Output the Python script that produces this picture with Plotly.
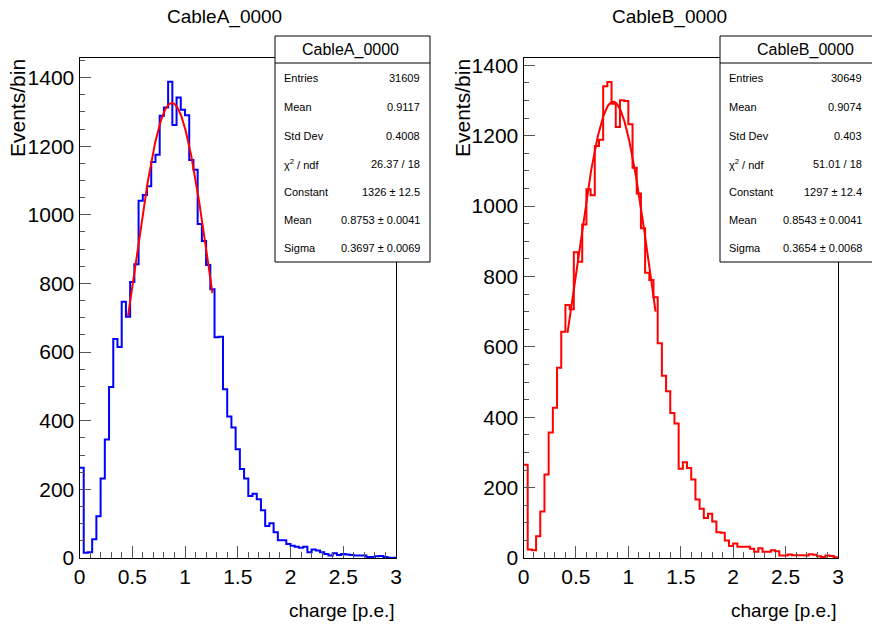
import numpy as np
import plotly.graph_objects as go

# ---------------- data ----------------
bin_lo = 0.0
bin_width = 0.04
n_bins = 75

cable_a_counts = [263, 15, 17, 55, 122, 232, 345, 498, 638, 615,
                  747, 703, 804, 856, 1041, 1058, 1083, 1154, 1175, 1289,
                  1313, 1388, 1262, 1342, 1306, 1290, 1160, 1131, 973, 924,
                  854, 783, 643, 645, 492, 412, 380, 317, 259, 232,
                  181, 187, 171, 139, 93, 101, 75, 52, 52, 41,
                  36, 33, 30, 33, 17, 25, 22, 17, 12, 7,
                  14, 9, 12, 10, 9, 7, 7, 7, 3, 3,
                  5, 6, 3, 1, 1]

cable_b_counts = [265, 24, 22, 62, 132, 237, 357, 427, 541, 643,
                  719, 707, 869, 842, 948, 1048, 1031, 1171, 1189, 1341,
                  1353, 1291, 1225, 1301, 1299, 1233, 1109, 1036, 937, 811,
                  790, 741, 610, 518, 474, 412, 382, 254, 272, 256,
                  223, 166, 140, 114, 126, 104, 73, 72, 50, 34,
                  41, 32, 32, 32, 26, 18, 28, 18, 18, 22,
                  19, 7, 7, 10, 8, 8, 8, 7, 11, 9,
                  5, 3, 7, 6, 2]

# Gaussian fit parameters (Constant, Mean, Sigma) and fit range
fit_a = [1326, 0.8753, 0.3697]
fit_a_range = [0.46, 1.26]
fit_b = [1297, 0.8543, 0.3654]
fit_b_range = [0.42, 1.26]

titles = ["CableA_0000", "CableB_0000"]
stat_labels = ["Entries", "Mean", "Std Dev", "\u03c7<sup>2</sup> / ndf", "Constant", "Mean", "Sigma"]
stat_values_a = ["31609", "0.9117", "0.4008", "26.37 / 18", "1326 \u00b1 12.5",
                 "0.8753 \u00b1 0.0041", "0.3697 \u00b1 0.0069"]
stat_values_b = ["30649", "0.9074", "0.403", "51.01 / 18", "1297 \u00b1 12.4",
                 "0.8543 \u00b1 0.0041", "0.3654 \u00b1 0.0068"]
x_title = "charge [p.e.]"
y_title = "Events/bin"

# ---------------- figure ----------------
W, H = 872, 625
FONT = "Liberation Sans, Arial, Helvetica, sans-serif"


def px(x):
    return x / W


def py(y):
    return 1 - y / H


edges = bin_lo + bin_width * np.arange(n_bins + 1)


def gauss(x, p):
    return p[0] * np.exp(-0.5 * ((x - p[1]) / p[2]) ** 2)


fig = go.Figure()

panels = [
    dict(counts=cable_a_counts, fit=fit_a, rng=fit_a_range, color="#0000ff",
         xa="x", ya="y", ymax=1457),
    dict(counts=cable_b_counts, fit=fit_b, rng=fit_b_range, color="#ff0000",
         xa="x2", ya="y2", ymax=1421),
]

for p in panels:
    c = list(p["counts"])
    fig.add_trace(go.Scatter(x=edges, y=c + [c[-1]], mode="lines", line_shape="hv",
                             line=dict(color=p["color"], width=2),
                             xaxis=p["xa"], yaxis=p["ya"], showlegend=False,
                             hoverinfo="skip"))
    xf = np.linspace(p["rng"][0], p["rng"][1], 200)
    fig.add_trace(go.Scatter(x=xf, y=gauss(xf, p["fit"]), mode="lines",
                             line=dict(color="#ff0000", width=2),
                             xaxis=p["xa"], yaxis=p["ya"], showlegend=False,
                             hoverinfo="skip"))

ydom = [py(558), py(58)]
xdoms = [[px(79.5), px(396)], [px(523.5), px(838)]]

common_x = dict(range=[0, 3], showline=True, linecolor="black", linewidth=1, mirror=True,
                ticks="inside", ticklen=12, tickcolor="#555", tickwidth=1,
                tick0=0, dtick=0.5, showgrid=False, zeroline=False, automargin=False,
                minor=dict(dtick=0.1, ticklen=6, ticks="inside", tickcolor="#555", tickwidth=1),
                tickfont=dict(family=FONT, size=21, color="black"))
common_y = dict(showline=True, linecolor="black", linewidth=1, mirror=True,
                ticks="inside", ticklen=11, tickcolor="#555", tickwidth=1,
                tick0=0, dtick=200, showgrid=False, zeroline=False, automargin=False,
                minor=dict(dtick=50, ticklen=5, ticks="inside", tickcolor="#555", tickwidth=1),
                tickfont=dict(family=FONT, size=21, color="black"))

fig.update_layout(
    width=W, height=H, autosize=False,
    margin=dict(l=0, r=0, t=0, b=0, pad=0, autoexpand=False),
    paper_bgcolor="white", plot_bgcolor="white", showlegend=False,
    xaxis=dict(domain=xdoms[0], anchor="y", **common_x),
    yaxis=dict(domain=ydom, anchor="x", range=[0, panels[0]["ymax"]], **common_y),
    xaxis2=dict(domain=xdoms[1], anchor="y2", **common_x),
    yaxis2=dict(domain=ydom, anchor="x2", range=[0, panels[1]["ymax"]], **common_y),
)

annotations = []
shapes = []

# panel titles and axis titles
title_x = [224, 669]
ytitle_x = [18, 463]
xtitle_right = [397, 839]
for i in range(2):
    annotations.append(dict(text=titles[i], x=px(title_x[i]), y=py(17), xref="paper", yref="paper",
                            xanchor="center", yanchor="middle", showarrow=False,
                            font=dict(family=FONT, size=19, color="black")))
    annotations.append(dict(text=y_title, x=px(ytitle_x[i]), y=py(57), xref="paper", yref="paper",
                            xanchor="center", yanchor="top", textangle=-90, showarrow=False,
                            font=dict(family=FONT, size=21, color="black")))
    annotations.append(dict(text=x_title, x=px(xtitle_right[i]), y=py(610), xref="paper", yref="paper",
                            xanchor="right", yanchor="middle", showarrow=False,
                            font=dict(family=FONT, size=19, color="black")))

# stats boxes
boxes = [
    dict(x0=275, x1=430, head_cx=350, lab_x=282, val_x=422, values=stat_values_a, name=titles[0]),
    dict(x0=720, x1=890, head_cx=805, lab_x=727, val_x=864, values=stat_values_b, name=titles[1]),
]
row_y = [78.5, 107, 135.5, 163.5, 191.5, 220, 248]
for b in boxes:
    shapes.append(dict(type="rect", xref="paper", yref="paper",
                       x0=px(b["x0"]), x1=px(b["x1"]), y0=py(262), y1=py(36),
                       fillcolor="white", line=dict(color="black", width=1), layer="above"))
    shapes.append(dict(type="line", xref="paper", yref="paper",
                       x0=px(b["x0"]), x1=px(b["x1"]), y0=py(63), y1=py(63),
                       line=dict(color="black", width=1), layer="above"))
    annotations.append(dict(text=b["name"], x=px(b["head_cx"]), y=py(49.5), xref="paper", yref="paper",
                            xanchor="center", yanchor="middle", showarrow=False,
                            font=dict(family=FONT, size=16, color="black")))
    for lab, val, yy in zip(stat_labels, b["values"], row_y):
        annotations.append(dict(text=lab, x=px(b["lab_x"]), y=py(yy), xref="paper", yref="paper",
                                xanchor="left", yanchor="middle", showarrow=False,
                                font=dict(family=FONT, size=11, color="black")))
        annotations.append(dict(text=val, x=px(b["val_x"]), y=py(yy), xref="paper", yref="paper",
                                xanchor="right", yanchor="middle", showarrow=False,
                                font=dict(family=FONT, size=11, color="black")))

fig.update_layout(annotations=annotations, shapes=shapes)

fig.write_html("out.html")
